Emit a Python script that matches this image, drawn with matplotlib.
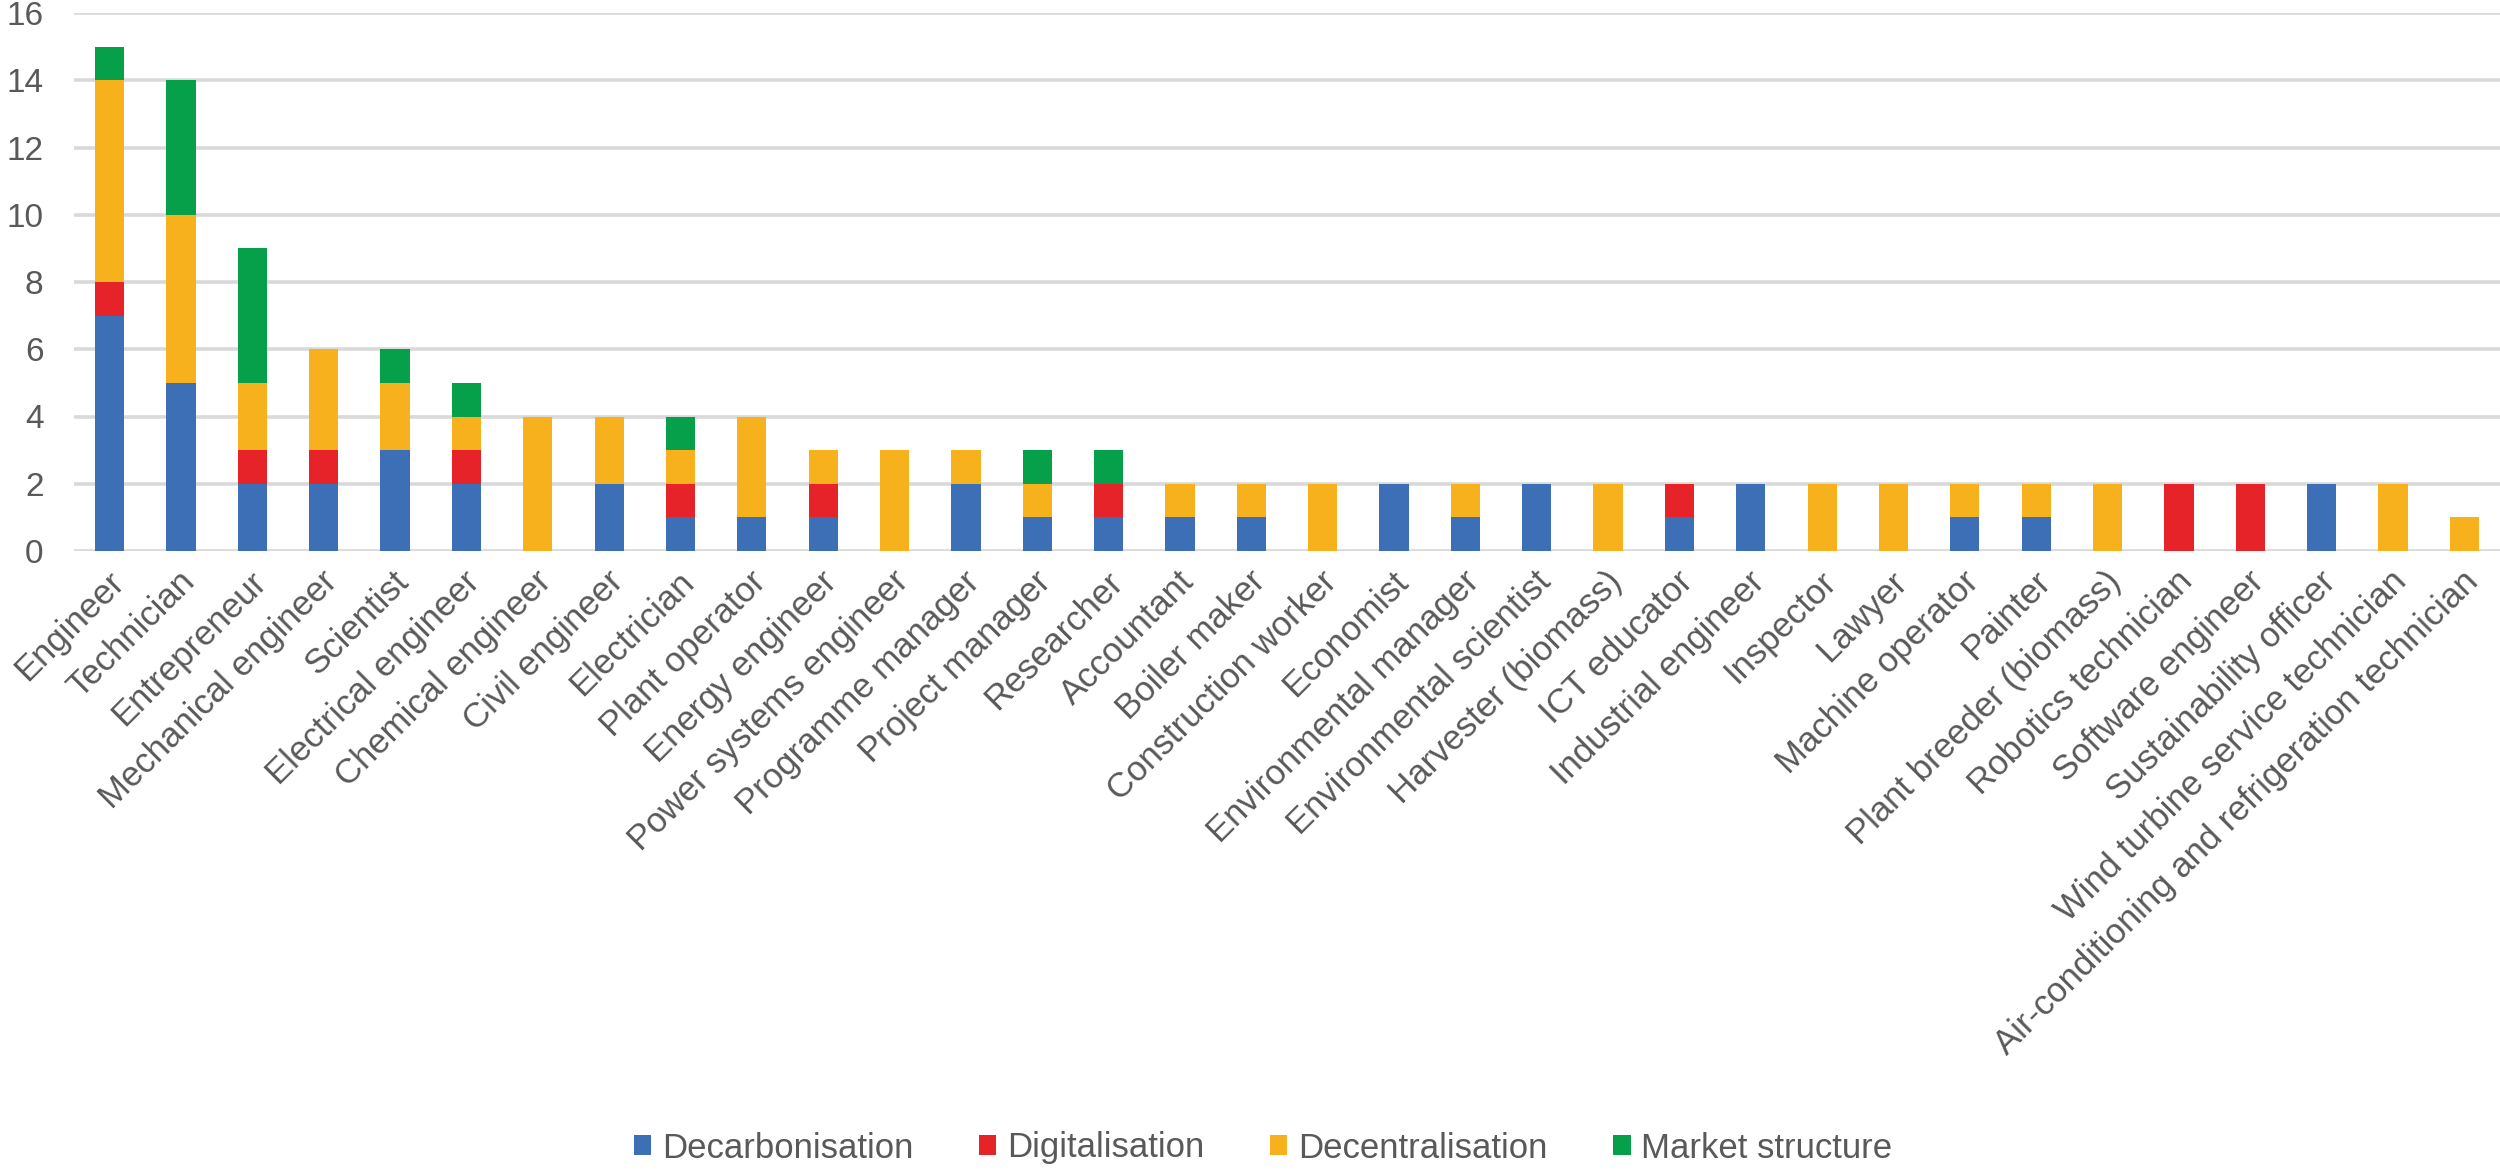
import matplotlib
matplotlib.use("Agg")
import matplotlib.pyplot as plt
import matplotlib.transforms as mtransforms
import numpy as np

categories = [
    "Engineer", "Technician", "Entrepreneur", "Mechanical engineer", "Scientist",
    "Electrical engineer", "Chemical engineer", "Civil engineer", "Electrician",
    "Plant operator", "Energy engineer", "Power systems engineer", "Programme manager",
    "Project manager", "Researcher", "Accountant", "Boiler maker", "Construction worker",
    "Economist", "Environmental manager", "Environmental scientist", "Harvester (biomass)",
    "ICT educator", "Industrial engineer", "Inspector", "Lawyer", "Machine operator",
    "Painter", "Plant breeder (biomass)", "Robotics technician", "Software engineer",
    "Sustainability officer", "Wind turbine service technician",
    "Air-conditioning and refrigeration technician",
]

decarbonisation = [7, 5, 2, 2, 3, 2, 0, 2, 1, 1, 1, 0, 2, 1, 1, 1, 1, 0, 2, 1, 2, 0, 1, 2, 0, 0, 1, 1, 0, 0, 0, 2, 0, 0]
digitalisation  = [1, 0, 1, 1, 0, 1, 0, 0, 1, 0, 1, 0, 0, 0, 1, 0, 0, 0, 0, 0, 0, 0, 1, 0, 0, 0, 0, 0, 0, 2, 2, 0, 0, 0]
decentralisation = [6, 5, 2, 3, 2, 1, 4, 2, 1, 3, 1, 3, 1, 1, 0, 1, 1, 2, 0, 1, 0, 2, 0, 0, 2, 2, 1, 1, 2, 0, 0, 0, 2, 1]
market_structure = [1, 4, 4, 0, 1, 1, 0, 0, 1, 0, 0, 0, 0, 1, 1, 0, 0, 0, 0, 0, 0, 0, 0, 0, 0, 0, 0, 0, 0, 0, 0, 0, 0, 0]

series_names = ["Decarbonisation", "Digitalisation", "Decentralisation", "Market structure"]
series_colors = ["#3D6FB6", "#E62329", "#F6B11C", "#06A04A"]
y_ticks = [0, 2, 4, 6, 8, 10, 12, 14, 16]

plt.rcParams["font.family"] = ["Liberation Sans", "DejaVu Sans"]
text_color = "#595959"

fig = plt.figure(figsize=(25, 11.7), dpi=100)
ax = fig.add_axes([74 / 2500, 1 - 551 / 1170, 1 - 74 / 2500, (551 - 13) / 1170])

x = np.arange(len(categories))
bottom = np.zeros(len(categories))
handles = []
for name, vals, col in zip(series_names,
                           [decarbonisation, digitalisation, decentralisation, market_structure],
                           series_colors):
    v = np.array(vals, dtype=float)
    h = ax.bar(x, v, width=0.41, bottom=bottom, color=col, label=name, zorder=3)
    handles.append(h)
    bottom += v

ax.set_xlim(-0.5, len(categories) - 0.5)
ax.set_ylim(0, 16)
ax.set_yticks(y_ticks)
ax.set_yticklabels([str(t) for t in y_ticks])
ax.yaxis.grid(True, color="#D9D9D9", linewidth=2.6, zorder=0)
ax.set_axisbelow(True)
for s in ["top", "right", "left", "bottom"]:
    ax.spines[s].set_visible(False)
ax.tick_params(axis="y", length=0, pad=22, labelsize=24, labelcolor=text_color)
ax.tick_params(axis="x", length=0, pad=0, labelsize=25, labelcolor=text_color)

ax.set_xticks(x)
ax.set_xticklabels(categories, rotation=45, ha="right", va="top", rotation_mode="anchor")
offset = mtransforms.ScaledTranslation(-3 / 100, -14 / 100, fig.dpi_scale_trans)
for lbl in ax.get_xticklabels():
    lbl.set_transform(lbl.get_transform() + offset)

leg = fig.legend(handles=handles, labels=series_names, loc="center",
                 bbox_to_anchor=(1263 / 2500, 1 - 1148 / 1170), ncol=4, frameon=False,
                 fontsize=25, handlelength=0.5, handleheight=0.5, handletextpad=0.3,
                 columnspacing=1.9, labelcolor=text_color)

fig.savefig("out.png", dpi=100, facecolor="white")
